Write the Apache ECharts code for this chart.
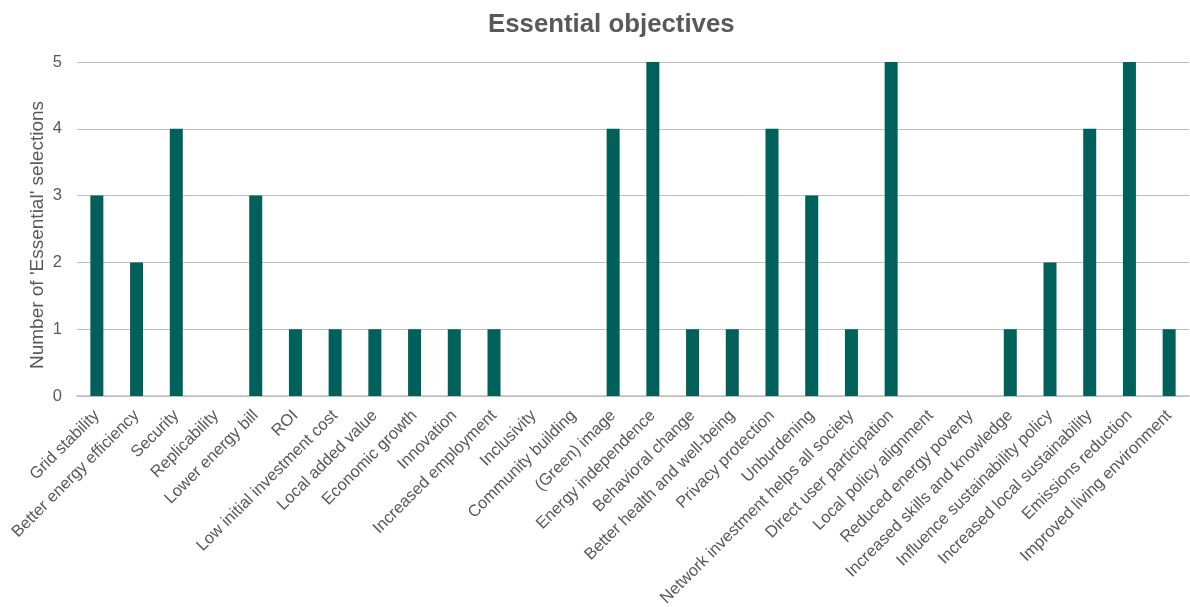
<!DOCTYPE html>
<html>
<head>
<meta charset="utf-8">
<script src="https://cdn.jsdelivr.net/npm/echarts@6/dist/echarts.min.js"></script>
<style>
html,body{margin:0;padding:0;background:#fff;}
#chart{width:1190px;height:607px;}
</style>
</head>
<body>
<div id="chart"></div>
<script>
// Objectives and how often each was marked 'Essential'
const categories = [
  'Grid stability', 'Better energy efficiency', 'Security', 'Replicability',
  'Lower energy bill', 'ROI', 'Low initial investment cost', 'Local added value',
  'Economic growth', 'Innovation', 'Increased employment', 'Inclusivity',
  'Community building', '(Green) image', 'Energy independence', 'Behavioral change',
  'Better health and well-being', 'Privacy protection', 'Unburdening',
  'Network investment helps all society', 'Direct user participation',
  'Local policy alignment', 'Reduced energy poverty', 'Increased skills and knowledge',
  'Influence sustainability policy', 'Increased local sustainability',
  'Emissions reduction', 'Improved living environment'
];
const essentialCounts = [3, 2, 4, 0, 3, 1, 1, 1, 1, 1, 1, 0, 0, 4, 5, 1, 1, 4, 3, 1, 5, 0, 0, 1, 2, 4, 5, 1];
const yTicks = [0, 1, 2, 3, 4, 5];

const textColor = '#595959';
const font = 'Liberation Sans, Arial, sans-serif';

const chart = echarts.init(document.getElementById('chart'));
chart.setOption({
  animation: false,
  title: {
    text: 'Essential objectives',
    left: 483,
    top: 7,
    textStyle: { color: textColor, fontFamily: font, fontSize: 25.8, fontWeight: 'bold' }
  },
  grid: { left: 77, right: 1, top: 62, bottom: 211, containLabel: false, outerBoundsMode: 'none' },
  xAxis: {
    type: 'category',
    data: categories,
    axisLine: { lineStyle: { color: '#bfbfbf', width: 1.5 } },
    axisTick: { show: false },
    axisLabel: {
      interval: 0,
      rotate: 45,
      color: textColor,
      fontFamily: font,
      fontSize: 16.5,
      margin: 17
    }
  },
  yAxis: {
    type: 'value',
    min: yTicks[0],
    max: yTicks[yTicks.length - 1],
    interval: 1,
    name: "Number of 'Essential' selections",
    nameLocation: 'middle',
    nameGap: 30,
    nameMoveOverlap: false,
    nameTextStyle: { color: textColor, fontFamily: font, fontSize: 19, padding: [0, 12, 0, 0] },
    axisLine: { show: false },
    axisTick: { show: false },
    axisLabel: { color: textColor, fontFamily: font, fontSize: 16.5, margin: 15 },
    splitLine: { lineStyle: { color: '#bfbfbf', width: 1.2 } }
  },
  series: [{
    type: 'bar',
    data: essentialCounts,
    barWidth: 13,
    itemStyle: { color: '#00605a' }
  }]
});
</script>
</body>
</html>
